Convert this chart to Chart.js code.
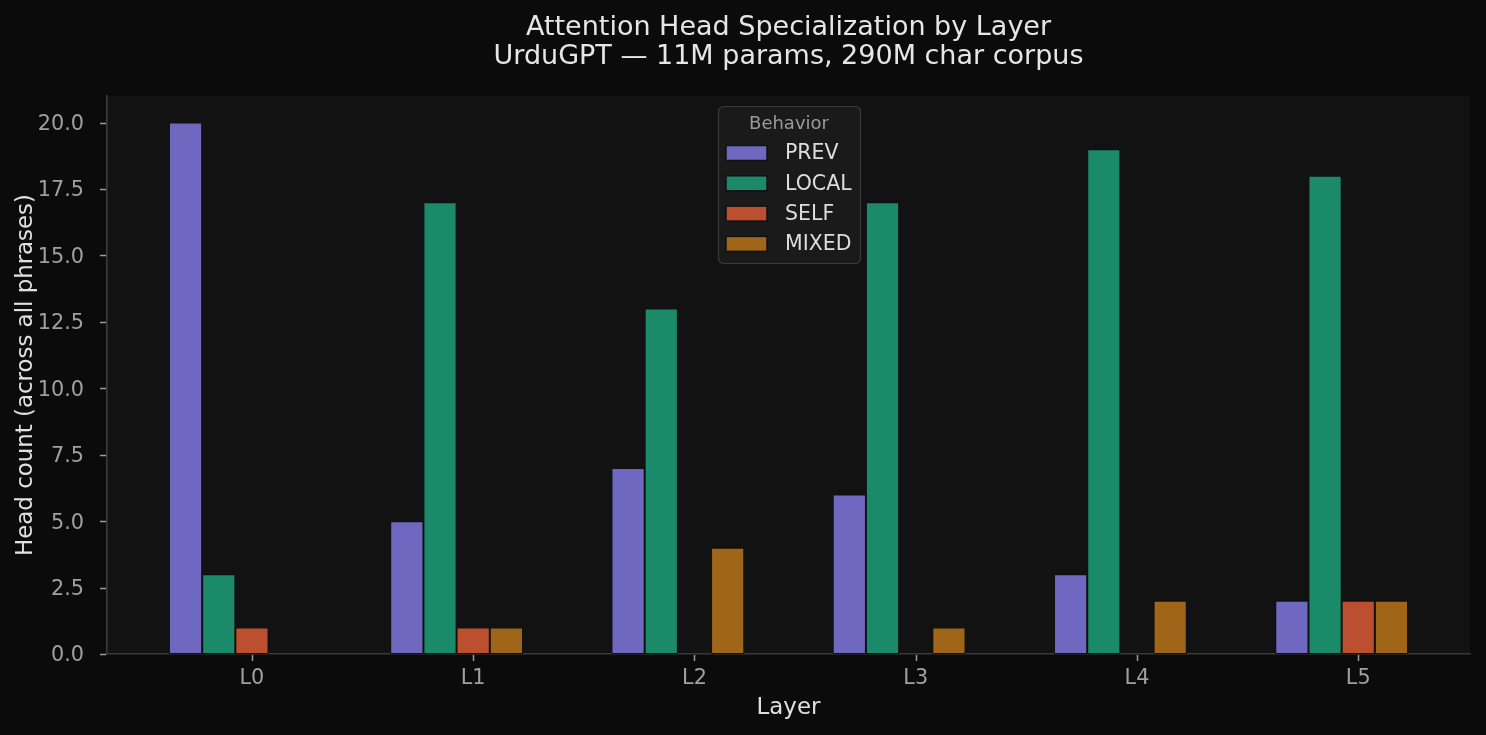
<!DOCTYPE html>
<html>
<head>
<meta charset="utf-8">
<script src="https://cdn.jsdelivr.net/npm/chart.js@4.4.1/dist/chart.umd.min.js"></script>
<style>
  html, body { margin: 0; padding: 0; background: #0b0b0b; }
  canvas { display: block; }
</style>
</head>
<body>
<canvas id="c" width="1486" height="735"></canvas>
<script>
// ---- data ----
const layers = ['L0', 'L1', 'L2', 'L3', 'L4', 'L5'];
const prevCounts  = [20, 5, 7, 6, 3, 2];
const localCounts = [3, 17, 13, 17, 19, 18];
const selfCounts  = [1, 1, 0, 0, 0, 2];
const mixedCounts = [0, 1, 4, 1, 2, 2];
const seriesNames = ['PREV', 'LOCAL', 'SELF', 'MIXED'];
const seriesColors = ['#6f68c0', '#1b8a69', '#bb4f2f', '#9f6519'];
const titleLines = ['Attention Head Specialization by Layer', 'UrduGPT \u2014 11M params, 290M char corpus'];
const yTicks = [0, 2.5, 5, 7.5, 10, 12.5, 15, 17.5, 20];

const FONT = "'DejaVu Sans', sans-serif";
const barW = 0.15;
// group center sits half a bar left of the tick (tick is under the 3rd bar)
const pts = arr => arr.map((v, i) => ({ x: i - barW / 2, y: v }));
const allSeries = [prevCounts, localCounts, selfCounts, mixedCounts];

const datasets = allSeries.map((arr, k) => ({
  label: seriesNames[k],
  data: pts(arr),
  backgroundColor: seriesColors[k],
  borderColor: '#111111',
  borderWidth: 1,
  borderSkipped: false,
  categoryPercentage: 4 * barW,
  barPercentage: 1.0
}));

const bgPlugin = {
  id: 'bg',
  beforeDraw(chart) {
    const { ctx, chartArea: a } = chart;
    ctx.save();
    ctx.fillStyle = '#0b0b0b';
    ctx.fillRect(0, 0, chart.width, chart.height);
    ctx.fillStyle = '#121212';
    ctx.fillRect(a.left, a.top, a.right - a.left, a.bottom - a.top);
    ctx.restore();
  }
};

// short outward tick marks, placed through the chart's own scales
const tickMarkPlugin = {
  id: 'tickmarks',
  afterDraw(chart) {
    const { ctx, chartArea: a, scales } = chart;
    ctx.save();
    ctx.strokeStyle = '#9a9a9a';
    ctx.lineWidth = 1.5;
    ctx.beginPath();
    layers.forEach((_, i) => {
      const x = Math.round(scales.x.getPixelForValue(i)) + 0.5;
      ctx.moveTo(x, a.bottom + 1);
      ctx.lineTo(x, a.bottom + 7);
    });
    yTicks.forEach(v => {
      const y = Math.round(scales.y.getPixelForValue(v)) + 0.5;
      ctx.moveTo(a.left - 7, y);
      ctx.lineTo(a.left - 1, y);
    });
    ctx.stroke();
    ctx.restore();
  }
};

const titlePlugin = {
  id: 'mtitle',
  afterDraw(chart) {
    const { ctx, chartArea: a } = chart;
    const cx = (a.left + a.right) / 2;
    ctx.save();
    ctx.fillStyle = '#e6e6e6';
    ctx.font = '27px ' + FONT;
    ctx.textAlign = 'center';
    ctx.textBaseline = 'alphabetic';
    ctx.fillText(titleLines[0], cx, 35);
    ctx.fillText(titleLines[1], cx, 64);
    ctx.restore();
  }
};

function roundRect(ctx, x, y, w, h, r) {
  ctx.beginPath();
  ctx.moveTo(x + r, y);
  ctx.lineTo(x + w - r, y);
  ctx.arcTo(x + w, y, x + w, y + r, r);
  ctx.lineTo(x + w, y + h - r);
  ctx.arcTo(x + w, y + h, x + w - r, y + h, r);
  ctx.lineTo(x + r, y + h);
  ctx.arcTo(x, y + h, x, y + h - r, r);
  ctx.lineTo(x, y + r);
  ctx.arcTo(x, y, x + r, y, r);
  ctx.closePath();
}

const legendPlugin = {
  id: 'mlegend',
  afterDatasetsDraw(chart) {
    const ctx = chart.ctx;
    const x0 = 718, y0 = 106, w = 142, h = 157;
    ctx.save();
    roundRect(ctx, x0 + 0.5, y0 + 0.5, w, h, 5);
    ctx.fillStyle = 'rgba(27,27,27,0.92)';
    ctx.fill();
    ctx.strokeStyle = '#3a3a3a';
    ctx.lineWidth = 1.2;
    ctx.stroke();
    ctx.fillStyle = '#9a9a9a';
    ctx.font = '18px ' + FONT;
    ctx.textAlign = 'center';
    ctx.textBaseline = 'middle';
    ctx.fillText('Behavior', x0 + w / 2, 124);
    ctx.font = '20.5px ' + FONT;
    ctx.textAlign = 'left';
    chart.data.datasets.forEach((ds, i) => {
      const cy = 153 + 30.3 * i;
      ctx.fillStyle = ds.backgroundColor;
      ctx.fillRect(726, cy - 7.5, 41, 15);
      ctx.strokeStyle = '#111111';
      ctx.lineWidth = 1.5;
      ctx.strokeRect(726, cy - 7.5, 41, 15);
      ctx.fillStyle = '#dddddd';
      ctx.fillText(ds.label, 785, cy + 1);
    });
    ctx.restore();
  }
};

new Chart(document.getElementById('c'), {
  type: 'bar',
  data: { datasets },
  options: {
    responsive: false,
    devicePixelRatio: 1,
    animation: false,
    layout: { padding: { top: 96, right: 16, left: 0, bottom: 0 } },
    plugins: {
      legend: { display: false },
      title: { display: false },
      tooltip: { enabled: false }
    },
    scales: {
      x: {
        type: 'linear',
        min: -0.655,
        max: 5.505,
        offset: false,
        afterFit(s) { s.height = 81; },
        afterBuildTicks(s) { s.ticks = layers.map((_, i) => ({ value: i })); },
        ticks: {
          callback: (v) => layers[v] !== undefined ? layers[v] : '',
          color: '#a0a0a0',
          font: { family: FONT, size: 20.8 },
          padding: 4,
          maxRotation: 0,
          autoSkip: false
        },
        grid: { display: false },
        border: { display: true, color: '#3a3a3a', width: 1.6 },
        title: { display: true, text: 'Layer', color: '#e0e0e0', font: { family: FONT, size: 22.9 }, padding: { top: 0, bottom: 13 } }
      },
      y: {
        min: 0,
        max: 21,
        afterFit(s) { s.width = 107; },
        afterBuildTicks(s) { s.ticks = yTicks.map(v => ({ value: v })); },
        ticks: {
          callback: (v) => Number(v).toFixed(1),
          color: '#a0a0a0',
          font: { family: FONT, size: 20.8 },
          padding: 15,
          labelOffset: 2
        },
        grid: { display: false },
        border: { display: true, color: '#3a3a3a', width: 1.6 },
        title: { display: true, text: 'Head count (across all phrases)', color: '#e0e0e0', font: { family: FONT, size: 22.9 }, padding: { top: 12, bottom: 0 } }
      }
    }
  },
  plugins: [bgPlugin, tickMarkPlugin, titlePlugin, legendPlugin]
});
</script>
</body>
</html>
